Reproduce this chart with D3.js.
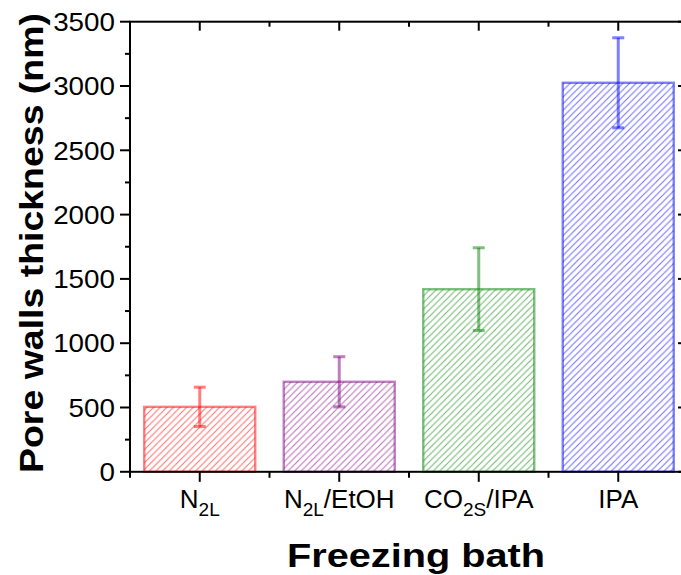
<!DOCTYPE html>
<html><head><meta charset="utf-8">
<script src="https://cdn.jsdelivr.net/npm/d3@7"></script>
<style>html,body{margin:0;padding:0;background:#fff;overflow:hidden}svg{display:block}</style>
</head><body>
<svg id="chart" width="681" height="575"></svg>
<script>
const categories = ["N_{2L}", "N_{2L}/EtOH", "CO_{2S}/IPA", "IPA"];
const values = [505, 700, 1420, 3025];
const errors = [153, 195, 322, 350];
const colors = ["#ff0000", "#800080", "#008000", "#0000ff"];
const yTicks = [0, 500, 1000, 1500, 2000, 2500, 3000, 3500];
const yMinorTicks = [250, 750, 1250, 1750, 2250, 2750, 3250];
const xTitle = "Freezing bath";
const yTitle = "Pore walls thickness (nm)";

const svg = d3.select("#chart");
const L = 130, R = 688, T = 21.7, B = 471.8;
const x = d3.scaleBand().domain(categories).range([L, R]).paddingInner(0.19).paddingOuter(0.095);
const y = d3.scaleLinear().domain([0, 3500]).range([B, T]);
const font = "'Liberation Sans', Arial, sans-serif";

// patterns
const defs = svg.append("defs");
categories.forEach((c, i) => {
  const s = 6.6;
  const p = defs.append("pattern").attr("id", "hatch" + i).attr("patternUnits", "userSpaceOnUse")
    .attr("width", s).attr("height", s);
  p.append("path").attr("d", `M${-s/2},${s/2} L${s/2},${-s/2} M0,${s} L${s},0 M${s/2},${s*1.5} L${s*1.5},${s/2}`)
    .attr("stroke", colors[i]).attr("stroke-opacity", 0.55).attr("stroke-width", 1.1);
});

// bars
const bars = svg.append("g");
categories.forEach((c, i) => {
  bars.append("rect").attr("x", x(c) + 1).attr("y", y(values[i]))
    .attr("width", x.bandwidth() - 2).attr("height", y(0) - y(values[i]))
    .attr("fill", `url(#hatch${i})`).attr("stroke", colors[i]).attr("stroke-opacity", 0.5).attr("stroke-width", 2.4);
});

// error bars
const eb = svg.append("g");
categories.forEach((c, i) => {
  const cx = x(c) + x.bandwidth() / 2;
  const g = eb.append("g").attr("stroke", colors[i]).attr("stroke-opacity", 0.5).attr("stroke-width", 3).attr("fill", "none");
  g.append("line").attr("x1", cx).attr("x2", cx).attr("y1", y(values[i] + errors[i])).attr("y2", y(values[i] - errors[i]));
  [values[i] + errors[i], values[i] - errors[i]].forEach(v => {
    g.append("line").attr("x1", cx - 6).attr("x2", cx + 6).attr("y1", y(v)).attr("y2", y(v));
  });
});

// axes
const ax = svg.append("g").attr("stroke", "#000").attr("fill", "none");
const lw = 2;
ax.append("rect").attr("x", L).attr("y", T).attr("width", R - L).attr("height", B - T).attr("stroke-width", lw);
// left ticks (out), right ticks (in)
yTicks.forEach(v => {
  ax.append("line").attr("x1", L - 10).attr("x2", L).attr("y1", y(v)).attr("y2", y(v)).attr("stroke-width", lw);
  ax.append("line").attr("x1", R - 10).attr("x2", R).attr("y1", y(v)).attr("y2", y(v)).attr("stroke-width", lw);
});
yMinorTicks.forEach(v => {
  ax.append("line").attr("x1", L - 5).attr("x2", L).attr("y1", y(v)).attr("y2", y(v)).attr("stroke-width", lw);
  ax.append("line").attr("x1", R - 5).attr("x2", R).attr("y1", y(v)).attr("y2", y(v)).attr("stroke-width", lw);
});
// bottom ticks (out), top ticks (in)
const centers = categories.map(c => x(c) + x.bandwidth() / 2);
const step = x.step();
centers.forEach(cx => {
  ax.append("line").attr("x1", cx).attr("x2", cx).attr("y1", B).attr("y2", B + 10).attr("stroke-width", lw);
  ax.append("line").attr("x1", cx).attr("x2", cx).attr("y1", T).attr("y2", T + 9).attr("stroke-width", lw);
});
const minorX = [centers[0] - step / 2].concat(centers.map(cx => cx + step / 2));
minorX.forEach(mx => {
  ax.append("line").attr("x1", mx).attr("x2", mx).attr("y1", B).attr("y2", B + 6).attr("stroke-width", lw);
  ax.append("line").attr("x1", mx).attr("x2", mx).attr("y1", T).attr("y2", T + 5).attr("stroke-width", lw);
});

// y tick labels
yTicks.forEach(v => {
  svg.append("text").attr("transform", `translate(115,${y(v) + 9.2}) scale(1.07,1)`)
    .attr("text-anchor", "end").attr("font-family", font).attr("font-size", 26).attr("fill", "#000").text(v);
});

// x tick labels with subscripts
categories.forEach((c, i) => {
  const t = svg.append("text").attr("x", centers[i]).attr("y", 507.5).attr("text-anchor", "middle")
    .attr("font-family", font).attr("font-size", 26).attr("fill", "#000");
  const parts = c.split(/(_\{[^}]*\})/).filter(s => s.length);
  let sub = false;
  parts.forEach(pt => {
    if (pt.startsWith("_{")) {
      t.append("tspan").attr("font-size", 19).attr("dy", 8).text(pt.slice(2, -1));
      sub = true;
    } else {
      t.append("tspan").attr("dy", sub ? -8 : 0).text(pt);
      sub = false;
    }
  });
});

// titles
svg.append("text").attr("x", 416).attr("y", 567).attr("text-anchor", "middle")
  .attr("font-family", font).attr("font-weight", "bold").attr("font-size", 34)
  .attr("textLength", 258).attr("lengthAdjust", "spacingAndGlyphs").text(xTitle);
svg.append("text").attr("transform", "translate(43,243) rotate(-90)").attr("text-anchor", "middle")
  .attr("font-family", font).attr("font-weight", "bold").attr("font-size", 33)
  .attr("textLength", 460).attr("lengthAdjust", "spacingAndGlyphs").text(yTitle);
</script>
</body></html>
